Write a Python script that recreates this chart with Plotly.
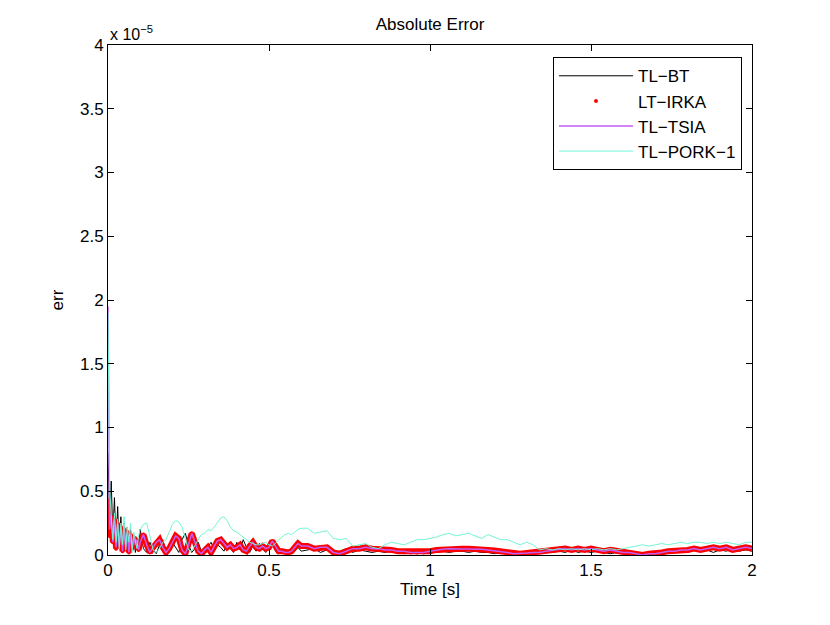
import numpy as np
import plotly.graph_objects as go

# time grid: fine at the start, coarser later
t = np.round(np.concatenate([
    np.linspace(0, 0.1, 21),
    np.linspace(0.11, 0.6, 50),
    np.linspace(0.62, 2.0, 70),
]), 3)

# errors, in units of 1e-5
err_bt = [
    0.80, 0.30, 0.58, 0.15, 0.45, 0.08, 0.38, 0.05, 0.30, 0.02, 0.25,
    0.04, 0.22, 0.01, 0.20, 0.05, 0.15, 0.02, 0.10, 0.06, 0.20,
    0.05, 0.02, 0.10, 0.04, 0.01, 0.08, 0.12, 0.03, 0.02, 0.10,
    0.06, 0.02, 0.12, 0.17, 0.08, 0.02, 0.05, 0.10, 0.03, 0.01,
    0.06, 0.10, 0.04, 0.08, 0.06, 0.03, 0.09, 0.05, 0.02, 0.10,
    0.04, 0.12, 0.06, 0.02, 0.07, 0.03, 0.09, 0.05, 0.02, 0.08,
    0.10, 0.03, 0.01, 0.05, 0.02, 0.04, 0.01, 0.03, 0.06, 0.03,
    0.04, 0.05, 0.02, 0.04, 0.01, 0.03, 0.05, 0.02, 0.04, 0.03,
    0.02, 0.03, 0.02, 0.03, 0.02, 0.01, 0.02, 0.01, 0.02, 0.02,
    0.02, 0.03, 0.02, 0.03, 0.03, 0.02, 0.03, 0.02, 0.02, 0.01,
    0.02, 0.01, 0.00, 0.01, 0.02, 0.01, 0.02, 0.03, 0.02, 0.03,
    0.02, 0.04, 0.02, 0.03, 0.02, 0.03, 0.02, 0.01, 0.02, 0.01,
    0.02, 0.01, 0.00, 0.01, 0.02, 0.01, 0.03, 0.02, 0.03, 0.02,
    0.04, 0.03, 0.04, 0.02, 0.04, 0.03, 0.05, 0.03, 0.04, 0.03,
]

err_irka = [
    0.43, 0.15, 0.30, 0.10, 0.28, 0.05, 0.25, 0.08, 0.22, 0.03, 0.20,
    0.06, 0.18, 0.02, 0.16, 0.05, 0.14, 0.08, 0.12, 0.04, 0.10,
    0.16, 0.08, 0.02, 0.06, 0.10, 0.12, 0.06, 0.02, 0.05, 0.10,
    0.15, 0.13, 0.04, 0.01, 0.08, 0.17, 0.10, 0.03, 0.01, 0.04,
    0.06, 0.02, 0.07, 0.11, 0.12, 0.09, 0.06, 0.08, 0.05, 0.06,
    0.08, 0.04, 0.03, 0.07, 0.10, 0.06, 0.05, 0.07, 0.05, 0.06,
    0.11, 0.07, 0.03, 0.03, 0.02, 0.02, 0.03, 0.06, 0.09, 0.07,
    0.07, 0.05, 0.06, 0.06, 0.02, 0.01, 0.03, 0.05, 0.05, 0.06,
    0.05, 0.05, 0.04, 0.04, 0.03, 0.03, 0.02, 0.02, 0.02, 0.03,
    0.04, 0.045, 0.05, 0.05, 0.05, 0.05, 0.05, 0.045, 0.04, 0.035,
    0.03, 0.02, 0.01, 0.01, 0.015, 0.02, 0.02, 0.03, 0.035, 0.04,
    0.05, 0.04, 0.05, 0.04, 0.05, 0.04, 0.03, 0.04, 0.03, 0.02,
    0.02, 0.01, 0.00, 0.01, 0.01, 0.02, 0.03, 0.03, 0.04, 0.04,
    0.05, 0.04, 0.05, 0.06, 0.05, 0.06, 0.04, 0.05, 0.06, 0.05,
]

err_tsia = [
    1.95, 0.20, 0.32, 0.10, 0.27, 0.06, 0.24, 0.07, 0.22, 0.03, 0.20,
    0.06, 0.18, 0.02, 0.16, 0.05, 0.14, 0.08, 0.12, 0.04, 0.10,
    0.16, 0.08, 0.02, 0.06, 0.10, 0.12, 0.06, 0.02, 0.05, 0.10,
    0.15, 0.13, 0.04, 0.01, 0.08, 0.17, 0.10, 0.03, 0.01, 0.04,
    0.06, 0.02, 0.07, 0.11, 0.12, 0.09, 0.06, 0.08, 0.05, 0.06,
    0.08, 0.04, 0.03, 0.07, 0.10, 0.06, 0.05, 0.07, 0.05, 0.06,
    0.11, 0.07, 0.03, 0.03, 0.02, 0.02, 0.03, 0.06, 0.09, 0.07,
    0.07, 0.05, 0.06, 0.06, 0.02, 0.01, 0.03, 0.05, 0.05, 0.06,
    0.05, 0.05, 0.04, 0.04, 0.03, 0.03, 0.02, 0.02, 0.02, 0.03,
    0.04, 0.045, 0.05, 0.05, 0.05, 0.05, 0.05, 0.045, 0.04, 0.035,
    0.03, 0.02, 0.01, 0.01, 0.015, 0.02, 0.02, 0.03, 0.035, 0.04,
    0.05, 0.04, 0.05, 0.04, 0.05, 0.04, 0.03, 0.04, 0.03, 0.02,
    0.02, 0.01, 0.00, 0.01, 0.01, 0.02, 0.03, 0.03, 0.04, 0.04,
    0.05, 0.04, 0.05, 0.06, 0.05, 0.06, 0.04, 0.05, 0.06, 0.05,
]

err_pork = [
    1.90, 0.55, 0.30, 0.12, 0.33, 0.10, 0.28, 0.05, 0.25, 0.08, 0.30,
    0.04, 0.22, 0.10, 0.25, 0.02, 0.18, 0.12, 0.05, 0.15, 0.20,
    0.24, 0.25, 0.15, 0.04, 0.02, 0.05, 0.10, 0.12, 0.18, 0.24,
    0.27, 0.26, 0.22, 0.12, 0.04, 0.03, 0.08, 0.12, 0.16, 0.17,
    0.20, 0.19, 0.22, 0.26, 0.29, 0.30, 0.27, 0.22, 0.19, 0.18,
    0.16, 0.14, 0.12, 0.10, 0.09, 0.08, 0.08, 0.09, 0.10, 0.08,
    0.07, 0.09, 0.12, 0.14, 0.16, 0.17, 0.16, 0.18, 0.20, 0.21,
    0.21, 0.17, 0.18, 0.19, 0.13, 0.12, 0.13, 0.07, 0.08, 0.09,
    0.06, 0.05, 0.08, 0.10, 0.09, 0.08, 0.10, 0.12, 0.12, 0.13,
    0.14, 0.16, 0.17, 0.15, 0.16, 0.17, 0.15, 0.13, 0.16, 0.14,
    0.12, 0.12, 0.10, 0.08, 0.10, 0.08, 0.04, 0.05, 0.04, 0.05,
    0.04, 0.05, 0.04, 0.05, 0.04, 0.05, 0.04, 0.05, 0.04, 0.05,
    0.06, 0.07, 0.08, 0.07, 0.08, 0.09, 0.08, 0.09, 0.10, 0.09,
    0.10, 0.10, 0.09, 0.10, 0.09, 0.10, 0.09, 0.08, 0.10, 0.10,
]

y_ticks = [0, 0.5, 1, 1.5, 2, 2.5, 3, 3.5, 4]
x_ticks = [0, 0.5, 1, 1.5, 2]

FONT = "Liberation Sans, Arial, sans-serif"
RED = "#ff0000"
VIOLET = "#c45cf5"
AQUA = "#72f5d6"

# page body has an 8px margin, so the figure is a bit smaller than the window
W, H = 822, 617

fig = go.Figure()
fig.add_trace(go.Scatter(x=t, y=err_bt, mode="lines", name="TL\u2212BT",
                         line=dict(color="black", width=1)))
# dense red dots in the original read as a thick band
fig.add_trace(go.Scatter(x=t, y=err_irka, mode="lines", showlegend=False,
                         legendgroup="irka", line=dict(color=RED, width=6)))
fig.add_trace(go.Scatter(x=t, y=err_irka, mode="markers", name="LT\u2212IRKA",
                         legendgroup="irka", marker=dict(color=RED, size=4)))
fig.add_trace(go.Scatter(x=t, y=err_tsia, mode="lines", name="TL\u2212TSIA",
                         line=dict(color=VIOLET, width=1.5)))
fig.add_trace(go.Scatter(x=t, y=err_pork, mode="lines", name="TL\u2212PORK\u22121",
                         line=dict(color=AQUA, width=1)))

axis_style = dict(showline=True, linecolor="black", linewidth=1, mirror="ticks",
                  ticks="inside", ticklen=6, tickcolor="black", showgrid=False,
                  zeroline=False, tickfont=dict(family=FONT, size=17, color="black"))

fig.update_layout(
    width=W, height=H,
    margin=dict(l=100, r=78, t=37, b=70),
    paper_bgcolor="white", plot_bgcolor="white",
    font=dict(family=FONT, color="black"),
    title=dict(text="Absolute Error", x=(100 + 744) / 2 / W, xanchor="center",
               y=1 - 16 / H, yanchor="middle", font=dict(size=17)),
    xaxis=dict(range=[0, 2], tickvals=x_ticks, ticktext=[str(v) for v in x_ticks],
               title=dict(text="Time [s]", font=dict(size=17), standoff=2),
               **axis_style),
    yaxis=dict(range=[0, 4], tickvals=y_ticks, ticktext=[f"{v:g}" for v in y_ticks],
               title=dict(text="err", font=dict(size=17), standoff=12),
               **axis_style),
    legend=dict(x=0.9845, y=0.976, xanchor="right", yanchor="top",
                bgcolor="white", bordercolor="black", borderwidth=1,
                font=dict(family=FONT, size=17), tracegroupgap=0,
                itemwidth=74),
    annotations=[dict(text="x 10<sup>\u22125</sup>", xref="paper", yref="paper",
                      x=0, y=1, xanchor="left", yanchor="bottom", showarrow=False,
                      font=dict(family=FONT, size=16))],
)

fig.write_html("out.html")
